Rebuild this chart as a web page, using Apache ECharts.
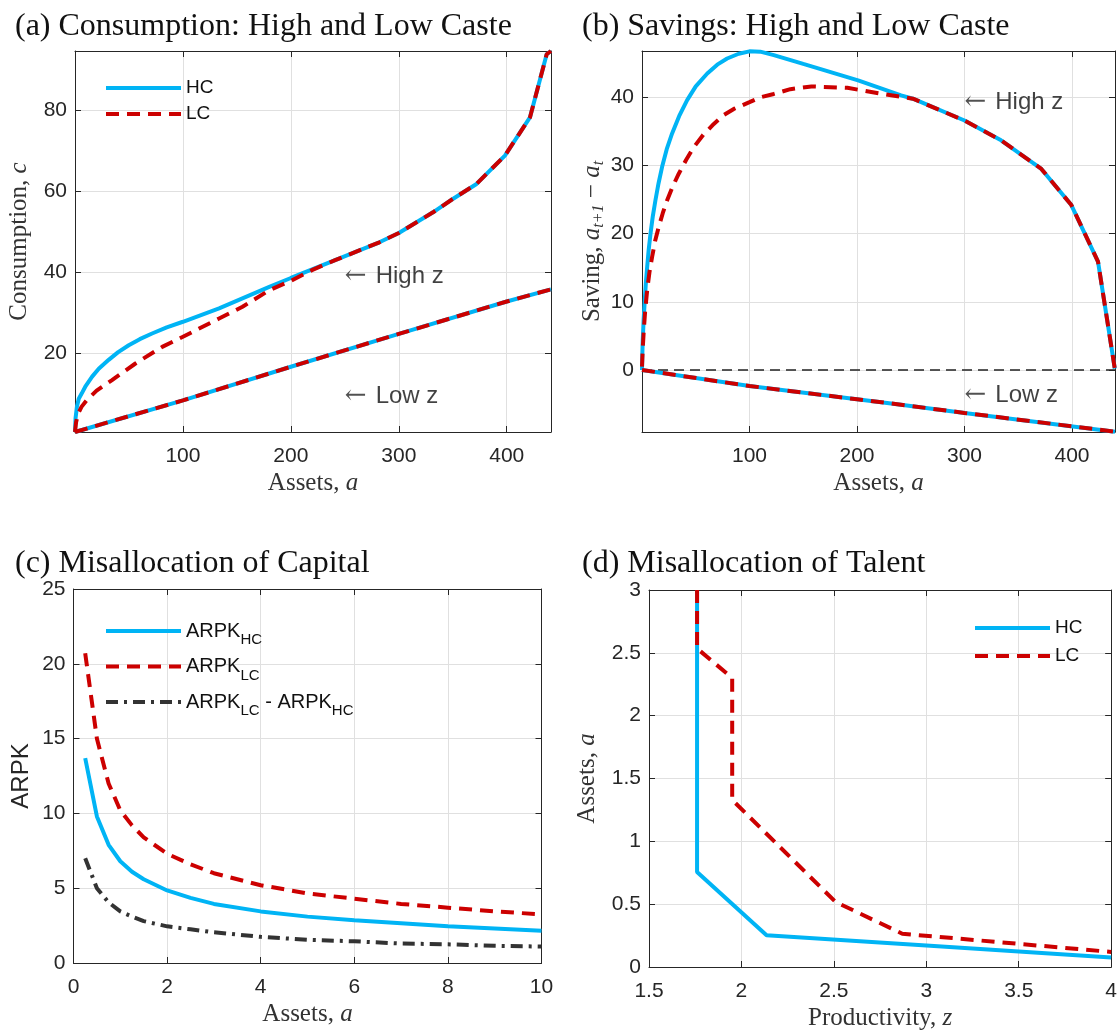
<!DOCTYPE html>
<html>
<head>
<meta charset="utf-8">
<script src="https://cdn.jsdelivr.net/npm/echarts@6/dist/echarts.min.js"></script>
<style>
html, body { margin:0; padding:0; background:#fff; }
#content-data { width:1120px; height:1033px; }
</style>
</head>
<body>
<div id="content-data"></div>
<script>
/* (a) consumption, high and low caste */
var consHighX_HC = [0, 0.5, 1.8, 3.5, 6.4, 10, 15.7, 22, 31.2, 40, 49.8, 60, 71.4, 85, 100, 133.5, 180, 200, 241, 282, 300, 331.7, 350, 372, 398.3, 421.5, 437, 441];
var consHighY_HC = [0.6, 4.0, 6.9, 8.8, 10.2, 12.0, 14.2, 16.2, 18.4, 20.3, 22.0, 23.5, 24.9, 26.4, 27.8, 31.1, 36.4, 38.6, 43.0, 47.4, 49.7, 54.8, 58.1, 61.8, 68.8, 78.2, 93.8, 94.6];
var consHighX_LC = [0, 1, 3, 6, 11, 20, 34.3, 56, 80.8, 100, 133.5, 155.2, 180, 200, 220, 241, 282, 300, 331.7, 350, 372, 398.3, 421.5, 437, 441];
var consHighY_LC = [0.6, 3.0, 5.2, 6.8, 8.5, 10.8, 13.4, 17.5, 21.6, 24.1, 28.6, 31.5, 35.6, 37.9, 40.6, 43.0, 47.4, 49.7, 54.8, 58.1, 61.8, 68.8, 78.2, 93.8, 94.6];
var consLowX = [0, 100, 200, 300, 400, 441];
var consLowY = [0.6, 8.4, 16.7, 24.8, 32.8, 35.8];

/* (b) savings */
var savHighX_HC = [0, 0.3, 0.7, 1.5, 2.6, 3.6, 4.8, 6.2, 7.9, 10, 12.5, 15.4, 18.7, 23, 28, 35, 42, 50, 60.7, 70, 79.2, 90, 100, 110, 122.6, 150, 201, 241, 252, 300, 334, 371.5, 399.4, 424.2, 439.8];
var savHighY_HC = [0, 2.2, 4.4, 7.3, 10.3, 12.8, 15.1, 17.6, 20.0, 22.5, 24.9, 27.4, 29.8, 32.4, 34.7, 37.4, 39.6, 41.6, 43.5, 44.8, 45.7, 46.4, 46.75, 46.7, 46.2, 44.9, 42.5, 40.3, 39.8, 36.6, 33.7, 29.5, 24.2, 15.9, 0.2];
var savHighX_LC = [0, 0.8, 1.7, 3, 4.8, 7, 9.4, 12.3, 15.6, 19.3, 23.4, 28.5, 34.2, 41, 48.2, 57, 66.8, 76, 85.4, 100, 110, 122.6, 138, 157.6, 191, 224, 252, 300, 334, 371.5, 399.4, 424.2, 439.8];
var savHighY_LC = [0.5, 3.5, 5.9, 8.8, 11.7, 14.4, 16.6, 19.0, 21.0, 23.0, 24.9, 26.9, 28.8, 30.8, 32.7, 34.5, 36.1, 37.4, 38.3, 39.3, 40.0, 40.5, 41.2, 41.6, 41.4, 40.5, 39.8, 36.6, 33.7, 29.5, 24.2, 15.9, 0.2];
var savLowX = [0, 100, 200, 241, 300, 440];
var savLowY = [0, -2.35, -4.3, -5.1, -6.3, -9.05];
var savZeroX = [0, 440];
var savZeroY = [0, 0];

/* (c) ARPK */
var arpkAssets = [0.25, 0.5, 0.75, 1, 1.25, 1.5, 2, 2.5, 3, 4, 5, 6, 7, 8, 9, 10];
var arpkHC = [13.7, 9.8, 7.9, 6.8, 6.1, 5.6, 4.85, 4.35, 3.95, 3.45, 3.1, 2.85, 2.65, 2.45, 2.3, 2.15];
var arpkLC = [20.7, 15.0, 12.0, 10.2, 9.2, 8.4, 7.3, 6.6, 6.0, 5.2, 4.65, 4.3, 3.95, 3.7, 3.45, 3.25];
var arpkGap = [7.0, 5.0, 4.05, 3.45, 3.1, 2.8, 2.45, 2.25, 2.05, 1.75, 1.55, 1.45, 1.3, 1.25, 1.15, 1.1];

/* (d) talent: entry thresholds */
var talentZ_HC = [1.76, 1.76, 2.136, 3, 4];
var talentA_HC = [3, 0.756, 0.252, 0.172, 0.075];
var talentZ_LC = [1.76, 1.76, 1.95, 1.95, 2.509, 2.87, 4];
var talentA_LC = [3, 2.535, 2.3, 1.33, 0.518, 0.265, 0.12];

var BLUE = '#00b4f5';
var RED = '#cc0000';
var DARK = '#333333';
var INK = '#262626';
var SERIF = "'Liberation Serif', 'DejaVu Serif', serif";
var SANS = "'Liberation Sans', Arial, sans-serif";

function pairs(xs, ys){
	return xs.map(function(x, i){ return [x, ys[i]]; });
}

function line(name, g, xs, ys, color, type, width, z){
	return {
		name: name,
		type: 'line',
		xAxisIndex: g * 2,
		yAxisIndex: g * 2,
		data: pairs(xs, ys),
		symbol: 'none',
		showSymbol: false,
		lineStyle: { color: color, width: width, type: type },
		itemStyle: { color: color },
		z: z,
		silent: true
	};
}

function note(g, x, y, text){
	return {
		name: 'note',
		type: 'scatter',
		xAxisIndex: g * 2,
		yAxisIndex: g * 2,
		data: [[x, y]],
		symbolSize: 0,
		silent: true,
		z: 10,
		label: {
			show: true,
			position: 'right',
			distance: 0,
			formatter: '{r|\u2190}{t|' + text + '}',
			rich: {
				r: { fontFamily: "'DejaVu Serif', serif", fontSize: 26, color: INK, padding: [0, 9, 0, 0] },
				t: { fontFamily: SANS, fontSize: 24, color: '#111' }
			}
		}
	};
}

var nameRich = {
	n: { fontFamily: SERIF, fontSize: 25, color: '#333' },
	i: { fontFamily: SERIF, fontSize: 25, fontStyle: 'italic', color: '#333' },
	s: { fontFamily: SERIF, fontSize: 16, fontStyle: 'italic', color: '#333', padding: [12, 0, 0, 0] }
};

function xAxes(g, min, max, interval, name, showMin, showMax){
	var base = {
		type: 'value', gridIndex: g, min: min, max: max, interval: interval,
		axisLine: { show: true, onZero: false, lineStyle: { color: INK, width: 1 } },
		axisTick: { show: true, inside: true, length: 6, lineStyle: { color: INK } }
	};
	var bottom = Object.assign({}, base, {
		position: 'bottom',
		name: name, nameLocation: 'middle', nameGap: 39,
		nameTextStyle: { rich: nameRich },
		axisLabel: { show: true, margin: 14, fontFamily: SANS, fontSize: 21, color: INK, showMinLabel: showMin, showMaxLabel: showMax },
		splitLine: { show: true, lineStyle: { color: '#e0e0e0', width: 1 } }
	});
	var top = Object.assign({}, base, {
		position: 'top',
		axisLabel: { show: false },
		splitLine: { show: false }
	});
	return [bottom, top];
}

function yAxes(g, min, max, interval, name, nameGap, nameStyle, showMin, showMax){
	var base = {
		type: 'value', gridIndex: g, min: min, max: max, interval: interval,
		axisLine: { show: true, onZero: false, lineStyle: { color: INK, width: 1 } },
		axisTick: { show: true, inside: true, length: 6, lineStyle: { color: INK } }
	};
	var left = Object.assign({}, base, {
		position: 'left',
		name: name, nameLocation: 'middle', nameGap: nameGap,
		nameTextStyle: nameStyle,
		axisLabel: { show: true, margin: 8, fontFamily: SANS, fontSize: 21, color: INK, showMinLabel: showMin, showMaxLabel: showMax },
		splitLine: { show: true, lineStyle: { color: '#e0e0e0', width: 1 } }
	});
	var right = Object.assign({}, base, {
		position: 'right',
		axisLabel: { show: false },
		splitLine: { show: false }
	});
	return [left, right];
}

function graphicAll(){
	var dom = document.getElementById('content-data');
	var myChart = echarts.init(dom, null, { renderer: 'canvas', useDirtyRect: false });

	var titleStyle = { fontFamily: SERIF, fontSize: 32, fontWeight: 'normal', color: '#111' };
	var dash = [13, 8];
	var dashDot = [12, 6, 3, 6];

	var xa = [].concat(
		xAxes(0, 0, 441, 100, '{n|Assets, }{i|a}', false, false),
		xAxes(1, 0, 440, 100, '{n|Assets, }{i|a}', false, false),
		xAxes(2, 0, 10, 2, '{n|Assets, }{i|a}', true, true),
		xAxes(3, 1.5, 4, 0.5, '{n|Productivity, }{i|z}', true, true)
	);
	var ya = [].concat(
		yAxes(0, 0.6, 94.6, null, '{n|Consumption, }{i|c}', 43, { rich: nameRich }, false, false),
		yAxes(1, -9.1, 46.8, null, '{n|Saving, }{i|a}{s|t+1}{n| \u2212 }{i|a}{s|t}', 35, { rich: nameRich }, false, false),
		yAxes(2, 0, 25, 5, 'ARPK', 40, { fontFamily: SANS, fontSize: 24, color: INK }, true, true),
		yAxes(3, 0, 3, 0.5, '{n|Assets, }{i|a}', 49, { rich: nameRich }, true, true)
	);

	var legendBase = {
		orient: 'vertical',
		padding: 0,
		itemWidth: 75,
		itemHeight: 20,
		selectedMode: false,
		itemStyle: { color: 'rgba(0,0,0,0)', borderWidth: 0, opacity: 0 },
		lineStyle: { width: 4 },
		textStyle: { fontFamily: SANS, fontSize: 19, color: '#111', lineHeight: 20 }
	};

	var option = {
		animation: false,
		backgroundColor: '#ffffff',
		title: [
			{ text: '(a) Consumption: High and Low Caste', left: 10, top: 6, textStyle: titleStyle },
			{ text: '(b) Savings: High and Low Caste', left: 577, top: 6, textStyle: titleStyle },
			{ text: '(c) Misallocation of Capital', left: 10, top: 543, textStyle: titleStyle },
			{ text: '(d) Misallocation of Talent', left: 577, top: 543, textStyle: titleStyle }
		],
		grid: [
			{ left: 75, top: 51, width: 476, height: 381 },
			{ left: 642, top: 51, width: 473, height: 381 },
			{ left: 73.5, top: 589, width: 468, height: 374 },
			{ left: 649, top: 590, width: 465, height: 377 }
		],
		legend: [
			Object.assign({}, legendBase, { data: ['HC', 'LC'], left: 104, top: 78, itemGap: 6 }),
			Object.assign({}, legendBase, {
				data: ['ARPK_HC', 'ARPK_LC', 'ARPK_GAP'], left: 104, top: 621, itemGap: 9,
				formatter: function(name){
					if (name === 'ARPK_HC') return '{m|ARPK}{s|HC}';
					if (name === 'ARPK_LC') return '{m|ARPK}{s|LC}';
					return '{m|ARPK}{s|LC}{m| - ARPK}{s|HC}';
				},
				textStyle: {
					fontFamily: SANS, fontSize: 20, color: '#111',
					rich: {
						m: { fontFamily: SANS, fontSize: 20, color: '#111' },
						s: { fontFamily: SANS, fontSize: 15, color: '#111', padding: [18, 0, 0, 0] }
					}
				}
			}),
			Object.assign({}, legendBase, { data: ['HC', 'LC'], left: 973, top: 618, itemGap: 8 })
		],
		xAxis: xa,
		yAxis: ya,
		series: [
			line('HC', 0, consHighX_HC, consHighY_HC, BLUE, 'solid', 4, 2),
			line('HC', 0, consLowX, consLowY, BLUE, 'solid', 4, 2),
			line('LC', 0, consHighX_LC, consHighY_LC, RED, dash, 4, 3),
			line('LC', 0, consLowX, consLowY, RED, dash, 4, 3),
			note(0, 250, 39, 'High z'),
			note(0, 250, 9.3, 'Low z'),

			line('zero', 1, savZeroX, savZeroY, '#222', [10, 6], 1.5, 1),
			line('HC', 1, savHighX_HC, savHighY_HC, BLUE, 'solid', 4, 2),
			line('HC', 1, savLowX, savLowY, BLUE, 'solid', 4, 2),
			line('LC', 1, savHighX_LC, savHighY_LC, RED, dash, 4, 3),
			line('LC', 1, savLowX, savLowY, RED, dash, 4, 3),
			note(1, 300, 39.3, 'High z'),
			note(1, 300, -3.7, 'Low z'),

			line('ARPK_HC', 2, arpkAssets, arpkHC, BLUE, 'solid', 4, 2),
			line('ARPK_LC', 2, arpkAssets, arpkLC, RED, dash, 4, 3),
			line('ARPK_GAP', 2, arpkAssets, arpkGap, DARK, dashDot, 4, 4),

			line('HC', 3, talentZ_HC, talentA_HC, BLUE, 'solid', 4, 2),
			line('LC', 3, talentZ_LC, talentA_LC, RED, dash, 4, 3)
		]
	};

	if (option && typeof option === 'object') {
		myChart.setOption(option);
	}
	window.addEventListener('resize', myChart.resize);
}
graphicAll()
</script>
</body>
</html>
